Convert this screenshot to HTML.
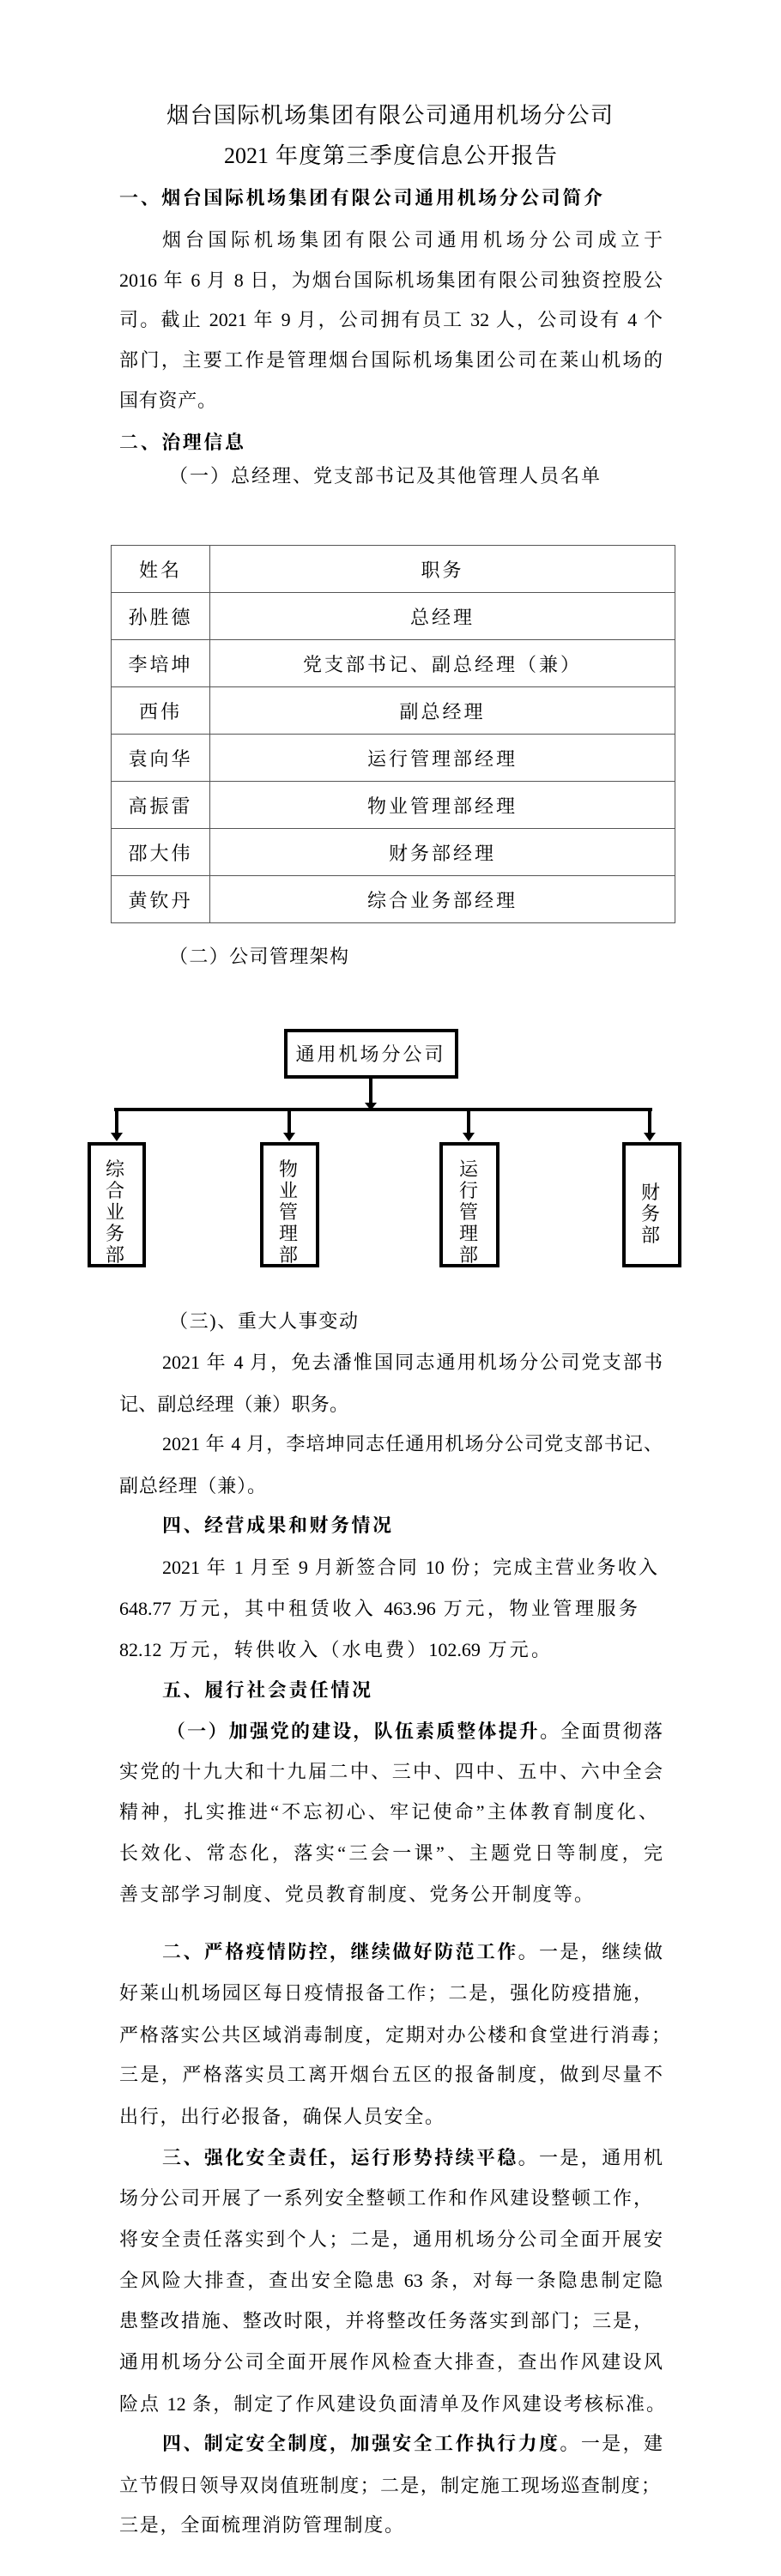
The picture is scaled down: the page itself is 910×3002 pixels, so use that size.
<!DOCTYPE html>
<html><head><meta charset="utf-8">
<style>
html,body{margin:0;padding:0;background:#fff;}
body{width:910px;height:3002px;position:relative;overflow:hidden;font-family:"Liberation Serif","Noto Serif CJK SC",serif;color:#000;}
.l{position:absolute;height:48px;line-height:48px;font-size:22px;text-align:justify;text-align-last:justify;}
.t{font-size:26px;}
b{font-weight:bold;}
table{position:absolute;left:129px;top:635px;width:658px;border-collapse:collapse;font-size:22px;letter-spacing:3px;}
td{border:1.5px solid #555;height:54px;text-align:center;padding:0;}
</style></head><body>
<div class="l t" style="left:194px;width:520px;top:111px">烟台国际机场集团有限公司通用机场分公司</div>
<div class="l t" style="left:261px;width:388px;top:158px">2021 年度第三季度信息公开报告</div>
<div class="l" style="left:139px;width:563px;top:207px"><b>一、烟台国际机场集团有限公司通用机场分公司简介</b></div>
<div class="l" style="left:189px;width:583px;top:256px">烟台国际机场集团有限公司通用机场分公司成立于</div>
<div class="l" style="left:139px;width:633px;top:303px">2016 年 6 月 8 日，为烟台国际机场集团有限公司独资控股公</div>
<div class="l" style="left:139px;width:633px;top:349px">司。截止 2021 年 9 月，公司拥有员工 32 人，公司设有 4 个</div>
<div class="l" style="left:139px;width:633px;top:396px">部门，主要工作是管理烟台国际机场集团公司在莱山机场的</div>
<div class="l" style="left:139px;width:113px;top:443px">国有资产。</div>
<div class="l" style="left:139px;width:145px;top:492px"><b>二、治理信息</b></div>
<div class="l" style="left:197px;width:502px;top:531px">（一）总经理、党支部书记及其他管理人员名单</div>
<table>
<tr><td style="width:114px">姓名</td><td>职务</td></tr>
<tr><td>孙胜德</td><td>总经理</td></tr>
<tr><td>李培坤</td><td>党支部书记、副总经理（兼）</td></tr>
<tr><td>西伟</td><td>副总经理</td></tr>
<tr><td>袁向华</td><td>运行管理部经理</td></tr>
<tr><td>高振雷</td><td>物业管理部经理</td></tr>
<tr><td>邵大伟</td><td>财务部经理</td></tr>
<tr><td>黄钦丹</td><td>综合业务部经理</td></tr>
</table>
<div class="l" style="left:197px;width:209px;top:1091px">（二）公司管理架构</div>
<svg style="position:absolute;left:0;top:1190px" width="910" height="300" font-family="Liberation Serif, Noto Serif CJK SC, serif" font-size="22">
<rect x="333" y="11" width="199" height="54" fill="#fff" stroke="#000" stroke-width="4"/>
<text x="432" y="46" text-anchor="middle" letter-spacing="3">通用机场分公司</text>
<line x1="432" y1="65" x2="432" y2="96" stroke="#000" stroke-width="4"/>
<polygon points="425,95 439,95 432,104" fill="#000"/>
<line x1="133" y1="103" x2="760" y2="103" stroke="#000" stroke-width="4"/>
<g stroke="#000" stroke-width="4">
<line x1="136" y1="103" x2="136" y2="131"/><line x1="337" y1="103" x2="337" y2="131"/>
<line x1="546" y1="103" x2="546" y2="131"/><line x1="757" y1="103" x2="757" y2="131"/>
</g>
<g fill="#000">
<polygon points="129,130 143,130 136,140"/><polygon points="330,130 344,130 337,140"/>
<polygon points="539,130 553,130 546,140"/><polygon points="750,130 764,130 757,140"/>
</g>
<g fill="#fff" stroke="#000" stroke-width="4">
<rect x="104" y="143" width="64" height="142"/><rect x="305" y="143" width="65" height="142"/>
<rect x="514" y="143" width="66" height="142"/><rect x="727" y="143" width="65" height="142"/>
</g>
<g text-anchor="middle">
<text x="134" y="180">综</text><text x="134" y="205">合</text><text x="134" y="230">业</text><text x="134" y="255">务</text><text x="134" y="280">部</text>
<text x="336" y="180">物</text><text x="336" y="205">业</text><text x="336" y="230">管</text><text x="336" y="255">理</text><text x="336" y="280">部</text>
<text x="546" y="180">运</text><text x="546" y="205">行</text><text x="546" y="230">管</text><text x="546" y="255">理</text><text x="546" y="280">部</text>
<text x="758" y="207">财</text><text x="758" y="232">务</text><text x="758" y="257">部</text>
</g>
</svg>
<div class="l" style="left:197px;width:220px;top:1516px">（三)、重大人事变动</div>
<div class="l" style="left:189px;width:583px;top:1564px">2021 年 4 月，免去潘惟国同志通用机场分公司党支部书</div>
<div class="l" style="left:139px;width:267px;top:1613px">记、副总经理（兼）职务。</div>
<div class="l" style="left:189px;width:583px;top:1659px">2021 年 4 月，李培坤同志任通用机场分公司党支部书记、</div>
<div class="l" style="left:139px;width:171px;top:1708px">副总经理（兼）。</div>
<div class="l" style="left:189px;width:267px;top:1754px"><b>四、经营成果和财务情况</b></div>
<div class="l" style="left:189px;width:577px;top:1803px">2021 年 1 月至 9 月新签合同 10 份；完成主营业务收入</div>
<div class="l" style="left:139px;width:604px;top:1851px">648.77 万元，其中租赁收入 463.96 万元，物业管理服务</div>
<div class="l" style="left:139px;width:502px;top:1899px">82.12 万元，转供收入（水电费）102.69 万元。</div>
<div class="l" style="left:189px;width:243px;top:1946px"><b>五、履行社会责任情况</b></div>
<div class="l" style="left:194px;width:578px;top:1994px"><b>（一）加强党的建设，队伍素质整体提升。</b>全面贯彻落</div>
<div class="l" style="left:139px;width:633px;top:2041px">实党的十九大和十九届二中、三中、四中、五中、六中全会</div>
<div class="l" style="left:139px;width:627px;top:2088px">精神，扎实推进“不忘初心、牢记使命”主体教育制度化、</div>
<div class="l" style="left:139px;width:633px;top:2136px">长效化、常态化，落实“三会一课”、主题党日等制度，完</div>
<div class="l" style="left:139px;width:552px;top:2184px">善支部学习制度、党员教育制度、党务公开制度等。</div>
<div class="l" style="left:189px;width:583px;top:2251px"><b>二、严格疫情防控，继续做好防范工作。</b>一是，继续做</div>
<div class="l" style="left:139px;width:621px;top:2299px">好莱山机场园区每日疫情报备工作；二是，强化防疫措施，</div>
<div class="l" style="left:139px;width:642px;top:2348px">严格落实公共区域消毒制度，定期对办公楼和食堂进行消毒；</div>
<div class="l" style="left:139px;width:633px;top:2394px">三是，严格落实员工离开烟台五区的报备制度，做到尽量不</div>
<div class="l" style="left:139px;width:378px;top:2443px">出行，出行必报备，确保人员安全。</div>
<div class="l" style="left:189px;width:583px;top:2491px"><b>三、强化安全责任，运行形势持续平稳。</b>一是，通用机</div>
<div class="l" style="left:139px;width:621px;top:2538px">场分公司开展了一系列安全整顿工作和作风建设整顿工作，</div>
<div class="l" style="left:139px;width:633px;top:2586px">将安全责任落实到个人；二是，通用机场分公司全面开展安</div>
<div class="l" style="left:139px;width:633px;top:2634px">全风险大排查，查出安全隐患 63 条，对每一条隐患制定隐</div>
<div class="l" style="left:139px;width:621px;top:2681px">患整改措施、整改时限，并将整改任务落实到部门；三是，</div>
<div class="l" style="left:139px;width:633px;top:2729px">通用机场分公司全面开展作风检查大排查，查出作风建设风</div>
<div class="l" style="left:139px;width:636px;top:2778px">险点 12 条，制定了作风建设负面清单及作风建设考核标准。</div>
<div class="l" style="left:189px;width:583px;top:2824px"><b>四、制定安全制度，加强安全工作执行力度。</b>一是，建</div>
<div class="l" style="left:139px;width:630px;top:2873px">立节假日领导双岗值班制度；二是，制定施工现场巡查制度；</div>
<div class="l" style="left:139px;width:331px;top:2919px">三是，全面梳理消防管理制度。</div>
</body></html>
